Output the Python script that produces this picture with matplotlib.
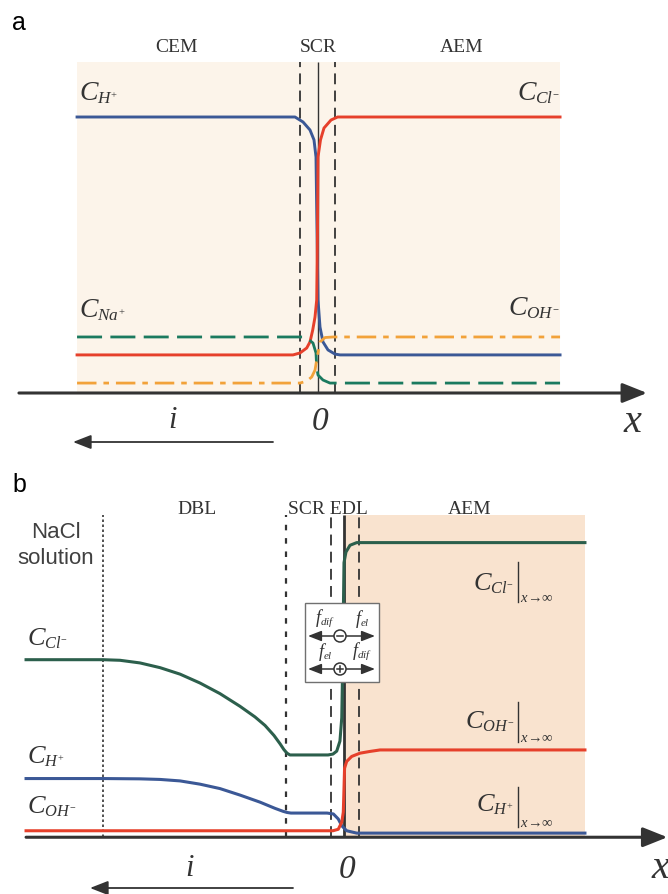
import matplotlib
matplotlib.use('Agg')
import matplotlib.pyplot as plt
from matplotlib.patches import Rectangle, Circle
try:
    import matplotlib._mathtext as _mt
    _mt.SHRINK_FACTOR = 0.62
except Exception:
    pass

plt.rcParams['mathtext.fontset'] = 'custom'
plt.rcParams['mathtext.rm'] = 'Liberation Serif'
plt.rcParams['mathtext.it'] = 'Liberation Serif:italic'
plt.rcParams['mathtext.bf'] = 'Liberation Serif:bold'

SERIF = 'Liberation Serif'
SANS = 'Liberation Sans'
INK = '#333333'
BLUE = '#3b5896'
RED = '#e6402b'
GREEN_A = '#1b7a5f'
GREEN_B = '#2c5f4c'
ORANGE = '#f2a23a'
SHADE_A = '#fcf4ea'
SHADE_B = '#f9e3cf'

# ---------------- panel a data (x: position, junction at 0, SCR edges at +-1; y: concentration) ----
a_scr = [-1.0, 1.0]
a_junction = 0.0
a_mem_left, a_mem_right, a_top = -13.74, 13.86, 11.99

a_x_h = [-13.74, -1.286, -0.829, -0.429, -0.2, -0.086, -0.029, 0.029, 0.143, 0.314, 0.6, 1.0, 1.286, 13.86]
a_y_h = [10.0, 10.0, 9.82, 9.53, 9.17, 8.55, 5.91, 3.37, 2.39, 1.85, 1.56, 1.41, 1.38, 1.38]

a_x_cl = [-13.74, -1.4, -1.0, -0.617, -0.429, -0.274, -0.143, -0.046, 0.0, 0.029, 0.171, 0.371, 0.771, 1.149, 13.86]
a_y_cl = [1.38, 1.38, 1.45, 1.63, 1.85, 2.28, 2.75, 3.37, 5.91, 8.55, 9.17, 9.60, 9.89, 10.0, 10.0]

a_x_na = [-13.74, -0.829, -0.543, -0.257, -0.086, -0.046, 0.029, 0.314, 0.714, 13.86]
a_y_na = [2.03, 2.03, 1.96, 1.81, 1.45, 0.94, 0.65, 0.47, 0.36, 0.36]

a_x_oh = [-13.74, -1.0, -0.617, -0.331, -0.143, -0.046, 0.143, 0.429, 0.886, 13.86]
a_y_oh = [0.36, 0.36, 0.43, 0.58, 0.83, 1.20, 1.85, 2.01, 2.03, 2.03]

# ---------------- panel b data ----------------
b_nacl = -17.21
b_scr = -4.14
b_edl = [-0.93, 1.07]
b_junction = 0.0
b_mem_right, b_top = 17.21, 10.93

b_x_cl = [-22.71, -17.21, -16.0, -14.57, -13.14, -11.71, -10.29, -8.86, -7.43, -6.36, -5.64, -5.0,
          -4.57, -4.29, -4.07, -3.86, -3.57, -1.14, -0.79, -0.52, -0.29, -0.16, -0.11, -0.05, 0.0,
          0.14, 0.43, 0.91, 17.21]
b_y_cl = [6.02, 6.02, 6.00, 5.91, 5.75, 5.53, 5.23, 4.87, 4.44, 4.08, 3.79, 3.45,
          3.17, 2.97, 2.85, 2.79, 2.79, 2.79, 2.82, 2.92, 3.26, 4.05, 5.43, 7.49, 9.31,
          9.67, 9.90, 9.99, 9.99]

b_x_h = [-22.71, -17.21, -14.57, -13.14, -11.71, -10.29, -8.86, -7.43, -6.0, -4.93, -4.36, -4.07,
         -3.79, -1.21, -0.76, -0.41, -0.16, 0.19, 0.91, 17.21]
b_y_h = [1.99, 1.99, 1.98, 1.96, 1.91, 1.80, 1.65, 1.43, 1.19, 0.98, 0.88, 0.84,
         0.82, 0.82, 0.79, 0.62, 0.39, 0.22, 0.14, 0.14]

b_x_oh = [-22.71, -0.79, -0.41, -0.16, -0.05, 0.0, 0.04, 0.19, 0.55, 1.14, 1.86, 2.57, 17.21]
b_y_oh = [0.22, 0.22, 0.27, 0.51, 0.85, 1.65, 2.34, 2.57, 2.74, 2.85, 2.91, 2.96, 2.96]

fig = plt.figure(figsize=(6.68, 8.94), dpi=100)
fig.patch.set_facecolor('white')

# ================= panel a =================
ax_a = fig.add_axes([0, 444 / 894, 1, 450 / 894])
ax_a.set_xlim(-317.5 / 17.5, 350.5 / 17.5)
ax_a.set_ylim(-57 / 27.6, 393 / 27.6)
ax_a.axis('off')
ax_a.add_patch(Rectangle((a_mem_left, 0), a_mem_right - a_mem_left, a_top,
                         fc=SHADE_A, ec='none', zorder=0))
ax_a.vlines(a_scr, 0, a_top, colors=INK, linestyles=[(0, (6, 3.5))], lw=1.3, zorder=1)
ax_a.vlines([a_junction], 0, a_top, colors=INK, lw=1.0, zorder=1)
ax_a.plot(a_x_h, a_y_h, color=BLUE, lw=2.1, zorder=3, solid_joinstyle='round')
ax_a.plot(a_x_cl, a_y_cl, color=RED, lw=2.1, zorder=3, solid_joinstyle='round')
ax_a.plot(a_x_na, a_y_na, color=GREEN_A, lw=2.0, zorder=4, linestyle=(0, (9, 3)))
ax_a.plot(a_x_oh, a_y_oh, color=ORANGE, lw=2.0, zorder=4, linestyle=(0, (7, 2.5, 2, 2.5)))
ax_a.annotate('', xy=(18.83, 0), xytext=(-17.06, 0),
              arrowprops=dict(arrowstyle='-|>,head_length=1.0,head_width=0.4', mutation_scale=15,
                              lw=2.2, color=INK, shrinkA=0, shrinkB=0), zorder=5)

# ================= panel b =================
ax_b = fig.add_axes([0, 0, 1, 450 / 894])
ax_b.set_xlim(-344 / 14, 324 / 14)
ax_b.set_ylim(-56 / 29.1, 388 / 29.1)
ax_b.axis('off')
ax_b.add_patch(Rectangle((b_junction, 0), b_mem_right - b_junction, b_top,
                         fc=SHADE_B, ec='none', zorder=0))
ax_b.vlines([b_nacl], 0, b_top, colors=INK, linestyles=[(0, (1.5, 1.5))], lw=1.2, zorder=1)
ax_b.vlines([b_scr], 0, b_top, colors=INK, linestyles=[(0, (2.5, 3.5))], lw=1.6, zorder=1)
ax_b.vlines(b_edl, 0, b_top, colors=INK, linestyles=[(0, (6, 3.5))], lw=1.3, zorder=1)
ax_b.vlines([b_junction], 0, b_top, colors=INK, lw=2.0, zorder=1)
ax_b.plot(b_x_cl, b_y_cl, color=GREEN_B, lw=2.2, zorder=3, solid_joinstyle='round')
ax_b.plot(b_x_h, b_y_h, color=BLUE, lw=2.2, zorder=3, solid_joinstyle='round')
ax_b.plot(b_x_oh, b_y_oh, color=RED, lw=2.2, zorder=3.5, solid_joinstyle='round')
ax_b.annotate('', xy=(23.1, 0), xytext=(-22.71, 0),
              arrowprops=dict(arrowstyle='-|>,head_length=1.0,head_width=0.4', mutation_scale=15,
                              lw=2.2, color=INK, shrinkA=0, shrinkB=0), zorder=5)

# ================= overlay (pixel coordinates, decoration & text) =================
ov = fig.add_axes([0, 0, 1, 1])
ov.set_xlim(0, 668)
ov.set_ylim(894, 0)
ov.axis('off')

def T(x, y, s, size, family=SERIF, ha='center', va='center', style='normal', color=INK, **kw):
    ov.text(x, y, s, fontsize=size, family=family, ha=ha, va=va, style=style, color=color, **kw)

# panel letters
T(19, 23, 'a', 18, family=SANS, color='black')
T(19, 485, 'b', 18, family=SANS, color='black')

# panel a region labels
T(176, 48, 'CEM', 14)
T(318, 48, 'SCR', 14)
T(462, 48, 'AEM', 14)

# panel a concentration labels
T(79, 100, r'$C_{H^{+}}$', 20, ha='left', va='baseline')
T(560, 100, r'$C_{Cl^{-}}$', 20, ha='right', va='baseline')
T(79, 317, r'$C_{Na^{+}}$', 20, ha='left', va='baseline')
T(560, 315, r'$C_{OH^{-}}$', 20, ha='right', va='baseline')

# panel a axis labels & current arrow
T(320, 422, '0', 24, style='italic')
T(173, 420, 'i', 22, style='italic')
T(632, 423, 'x', 29, style='italic')
ov.annotate('', xy=(73, 442), xytext=(273, 442),
            arrowprops=dict(arrowstyle='-|>,head_length=1.1,head_width=0.43', mutation_scale=10,
                            lw=1.3, color=INK, shrinkA=0, shrinkB=0))

# panel b region labels
T(197, 510, 'DBL', 14)
T(328, 510, 'SCR EDL', 14)
T(470, 510, 'AEM', 14)
T(56, 533, 'NaCl', 16, family=SANS, color='#404040')
T(56, 558, 'solution', 16, family=SANS, color='#404040')

# panel b left labels
T(27, 645, r'$C_{Cl^{-}}$', 19, ha='left', va='baseline')
T(27, 763, r'$C_{H^{+}}$', 19, ha='left', va='baseline')
T(27, 813, r'$C_{OH^{-}}$', 19, ha='left', va='baseline')

# panel b right labels with evaluation bar
for ylab, ybar0, ybar1, lab in [(590, 562, 602, r'$C_{Cl^{-}}$'),
                                (728, 702, 742, r'$C_{OH^{-}}$'),
                                (811, 787, 827, r'$C_{H^{+}}$')]:
    T(514, ylab, lab, 19, ha='right', va='baseline')
    ov.plot([517.5, 517.5], [ybar0, ybar1], color=INK, lw=1.0)
    T(520, ybar1, r'$x\!\rightarrow\!\infty$', 10.5, ha='left', va='baseline')

# force box
ov.add_patch(Rectangle((305, 603), 74, 79, fc='white', ec='#707070', lw=1.0, zorder=6))
for yrow, sign, lab_l, lab_r in [(636, '-', r'$f_{dif}$', r'$f_{el}$'),
                                 (669, '+', r'$f_{el}$', r'$f_{dif}$')]:
    for tip, tail in [(308, 334), (375, 346)]:
        ov.annotate('', xy=(tip, yrow), xytext=(tail, yrow),
                    arrowprops=dict(arrowstyle='-|>,head_length=0.9,head_width=0.35', mutation_scale=9,
                                    lw=1.1, color=INK, shrinkA=0, shrinkB=0), zorder=7)
    ov.add_patch(Circle((340, yrow), 6, fc='white', ec=INK, lw=1.1, zorder=8))
    ov.plot([337, 343], [yrow, yrow], color=INK, lw=1.1, zorder=9)
    if sign == '+':
        ov.plot([340, 340], [yrow - 3, yrow + 3], color=INK, lw=1.1, zorder=9)
    T(325, yrow - 17, lab_l, 13, zorder=9)
    T(362, yrow - 17, lab_r, 13, zorder=9)

# panel b axis labels & current arrow
T(347, 870, '0', 24, style='italic')
T(190, 868, 'i', 22, style='italic')
T(660, 868, 'x', 29, style='italic')
ov.annotate('', xy=(90, 888), xytext=(293, 888),
            arrowprops=dict(arrowstyle='-|>,head_length=1.1,head_width=0.43', mutation_scale=10,
                            lw=1.3, color=INK, shrinkA=0, shrinkB=0))

fig.savefig('out.png', dpi=100, facecolor='white')
